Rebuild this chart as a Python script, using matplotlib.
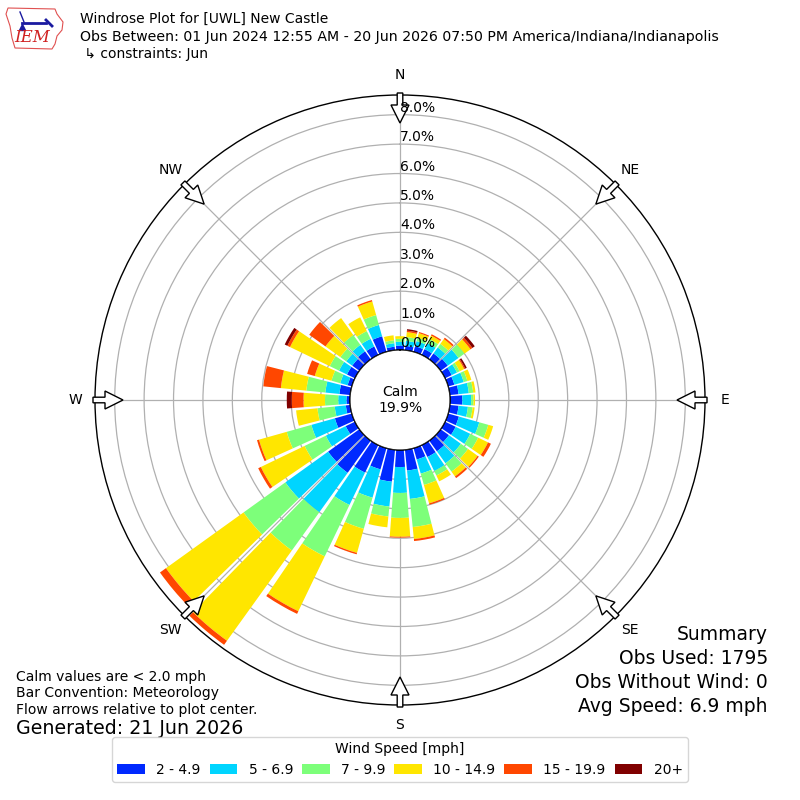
import numpy as np
import matplotlib
matplotlib.use("Agg")
import matplotlib.pyplot as plt
from matplotlib.patches import Polygon, Circle

# wind direction bins (degrees, meteorological) and speed classes
directions = np.arange(0, 360, 10)
speed_labels = ["2 - 4.9", "5 - 6.9", "7 - 9.9", "10 - 14.9", "15 - 19.9", "20+"]

# frequency (% of obs) for each direction, one list per speed class
spd_2_5 = [0.15, 0.15, 0.20, 0.22, 0.25, 0.30, 0.25, 0.22, 0.30, 0.42, 0.30, 0.38,
           0.40, 0.35, 0.45, 0.45, 0.40, 0.71, 0.58, 1.09, 0.75, 1.04, 1.35, 1.31,
           0.35, 0.60, 0.15, 0.12, 0.37, 0.15, 0.30, 0.30, 0.34, 0.32, 0.55, 0.12]
spd_5_7 = [0.13, 0.17, 0.18, 0.23, 0.25, 0.45, 0.20, 0.33, 0.35, 0.30, 0.32, 0.72,
           0.55, 0.50, 0.50, 0.53, 0.50, 0.97, 0.88, 0.85, 1.00, 1.22, 1.65, 1.79,
           0.75, 0.83, 0.38, 0.28, 0.48, 0.26, 0.30, 0.25, 0.27, 0.29, 0.40, 0.12]
spd_7_10 = [0.10, 0.13, 0.12, 0.15, 0.15, 0.25, 0.10, 0.13, 0.15, 0.08, 0.16, 0.32,
            0.30, 0.30, 0.35, 0.17, 0.40, 0.96, 0.85, 0.34, 1.10, 1.94, 1.60, 1.75,
            0.80, 0.87, 0.59, 0.45, 0.65, 0.31, 0.35, 0.25, 0.41, 0.29, 0.35, 0.10]
spd_10_15 = [0.09, 0.17, 0.16, 0.13, 0.20, 0.25, 0.17, 0.14, 0.08, 0.05, 0.07, 0.17,
             0.37, 0.40, 0.20, 0.22, 0.65, 0.41, 0.64, 0.37, 0.85, 2.07, 3.78, 3.25,
             1.65, 0.98, 0.73, 0.73, 0.87, 0.59, 1.50, 0.62, 0.71, 0.52, 0.48, 0.17]
spd_15_20 = [0.00, 0.05, 0.04, 0.05, 0.06, 0.08, 0.04, 0.00, 0.00, 0.00, 0.00, 0.00,
             0.11, 0.05, 0.07, 0.00, 0.05, 0.07, 0.03, 0.00, 0.05, 0.10, 0.17, 0.25,
             0.10, 0.07, 0.00, 0.40, 0.60, 0.27, 0.10, 0.68, 0.00, 0.00, 0.05, 0.00]
spd_20up = [0.00, 0.05, 0.00, 0.00, 0.00, 0.10, 0.06, 0.00, 0.00, 0.00, 0.00, 0.00,
            0.00, 0.00, 0.00, 0.00, 0.00, 0.00, 0.00, 0.00, 0.00, 0.00, 0.00, 0.00,
            0.00, 0.00, 0.00, 0.17, 0.00, 0.00, 0.10, 0.00, 0.00, 0.00, 0.00, 0.00]

calm_pct = 19.9
obs_used = 1795
obs_no_wind = 0
avg_speed = 6.9

compass = ["N", "NE", "E", "SE", "S", "SW", "W", "NW"]

colors = plt.cm.jet(np.linspace(0, 1, 7)[1:])

fig = plt.figure(figsize=(8, 8), dpi=100)

# polar axes, outer radius 305 px centred on (400, 400)
ax = fig.add_axes([95 / 800, 95 / 800, 610 / 800, 610 / 800], projection="polar")
ax.set_theta_zero_location("N")
ax.set_theta_direction(-1)
rmax = 8.67
hole = 1.70
ax.set_rorigin(-hole)
ax.set_ylim(0, rmax)
ax.set_axisbelow(True)

theta = np.deg2rad(directions)
bottom = np.zeros(len(directions))
for vals, col, lab in zip([spd_2_5, spd_5_7, spd_7_10, spd_10_15, spd_15_20, spd_20up],
                          colors, speed_labels):
    vals = np.array(vals)
    ax.bar(theta, vals, width=np.deg2rad(10) * 0.86, bottom=bottom, color=col,
           label=lab, linewidth=0, zorder=2)
    bottom += vals

ax.set_xticks(np.deg2rad(np.arange(0, 360, 45)))
ax.set_xticklabels([])
ax.set_yticks(np.arange(1, 9))
ax.set_yticklabels([])
ax.grid(True, color="#b0b0b0", linewidth=0.9)
ax.spines["polar"].set_linewidth(1.0)

# flow arrows at the rim, pointing to the centre (sizes in pixels)
for ang in range(0, 360, 45):
    a = np.deg2rad(ang)
    out = np.array([np.sin(a), np.cos(a)])
    perp = np.array([np.cos(a), -np.sin(a)])
    shape = [(307, -2.8), (295, -2.8), (295, -9), (277, 0), (295, 9), (295, 2.8), (307, 2.8)]
    pts = [(np.array([305, 305]) + r * out + o * perp) / 610 for r, o in shape]
    ax.add_patch(Polygon(pts, closed=True, facecolor="white", edgecolor="black",
                         linewidth=1, transform=ax.transAxes, clip_on=False, zorder=4))

# radial labels along the north axis
for v in range(0, 9):
    ax.text(0, v, "%.1f%%" % v, ha="left", va="bottom", fontsize=10, zorder=6)

# compass labels
r_lab = 325 / (305 / (rmax + hole)) - hole
for name, ang in zip(compass, range(0, 360, 45)):
    ax.text(np.deg2rad(ang), r_lab, name, ha="center", va="center", fontsize=10,
            clip_on=False)

# calm circle
ax.add_patch(Circle((0.5, 0.5), 50 / 610, transform=ax.transAxes, facecolor="white",
                    edgecolor="black", linewidth=1, zorder=5))
fig.text(0.5, 0.5, "Calm\n%.1f%%" % calm_pct, ha="center", va="center", fontsize=10,
         linespacing=1.25)

# overlay in pixel coordinates for the logo
ov = fig.add_axes([0, 0, 1, 1])
ov.set_xlim(0, 800)
ov.set_ylim(800, 0)
ov.axis("off")

iowa = [(8, 8), (55, 9), (57, 14), (63, 22), (62, 30), (57, 36), (55, 44), (52, 49),
        (15, 48), (12, 38), (10, 26), (6, 14)]
ov.add_patch(Polygon(iowa, closed=True, facecolor="none", edgecolor="#e05050", linewidth=0.8))
ov.plot([22, 46], [23, 23], color="#1a1aa0", linewidth=2)
ov.plot([46, 52], [20, 26], color="#1a1aa0", linewidth=2)
ov.plot([20, 24], [12, 22], color="#1a1aa0", linewidth=1)
ov.plot([22], [27], marker="^", color="#1a1aa0", markersize=4)
ov.text(32, 38, "IEM", color="#d02020", fontsize=12, family="DejaVu Serif",
        style="italic", ha="center", va="center")

# header
fig.text(80 / 800, 1 - 19 / 800, "Windrose Plot for [UWL] New Castle", fontsize=10, va="center")
fig.text(80 / 800, 1 - 37 / 800,
         "Obs Between: 01 Jun 2024 12:55 AM - 20 Jun 2026 07:50 PM America/Indiana/Indianapolis",
         fontsize=10.15, va="center")
fig.text(80 / 800, 1 - 54 / 800, " \u21b3 constraints: Jun", fontsize=10, va="center")

# footnotes
fig.text(16 / 800, 1 - 677 / 800, "Calm values are < 2.0 mph", fontsize=10, va="center")
fig.text(16 / 800, 1 - 693 / 800, "Bar Convention: Meteorology", fontsize=10, va="center")
fig.text(16 / 800, 1 - 710 / 800, "Flow arrows relative to plot center.", fontsize=10, va="center")
fig.text(16 / 800, 1 - 729 / 800, "Generated: 21 Jun 2026", fontsize=13.7, va="center")

# summary
fig.text(768 / 800, 1 - 635 / 800, "Summary", fontsize=13.5, ha="right", va="center")
fig.text(768 / 800, 1 - 658 / 800, "Obs Used: %d" % obs_used, fontsize=13.5, ha="right", va="center")
fig.text(768 / 800, 1 - 682 / 800, "Obs Without Wind: %d" % obs_no_wind, fontsize=13.5,
         ha="right", va="center")
fig.text(768 / 800, 1 - 706 / 800, "Avg Speed: %.1f mph" % avg_speed, fontsize=13.5,
         ha="right", va="center")

handles, labels = ax.get_legend_handles_labels()
fig.legend(handles, labels, loc="lower center", bbox_to_anchor=(0.5, 0.014), ncol=6,
           title="Wind Speed [mph]", fontsize=10, title_fontsize=10, columnspacing=0.65,
           borderpad=0.35)

fig.savefig("out.png", dpi=100)
